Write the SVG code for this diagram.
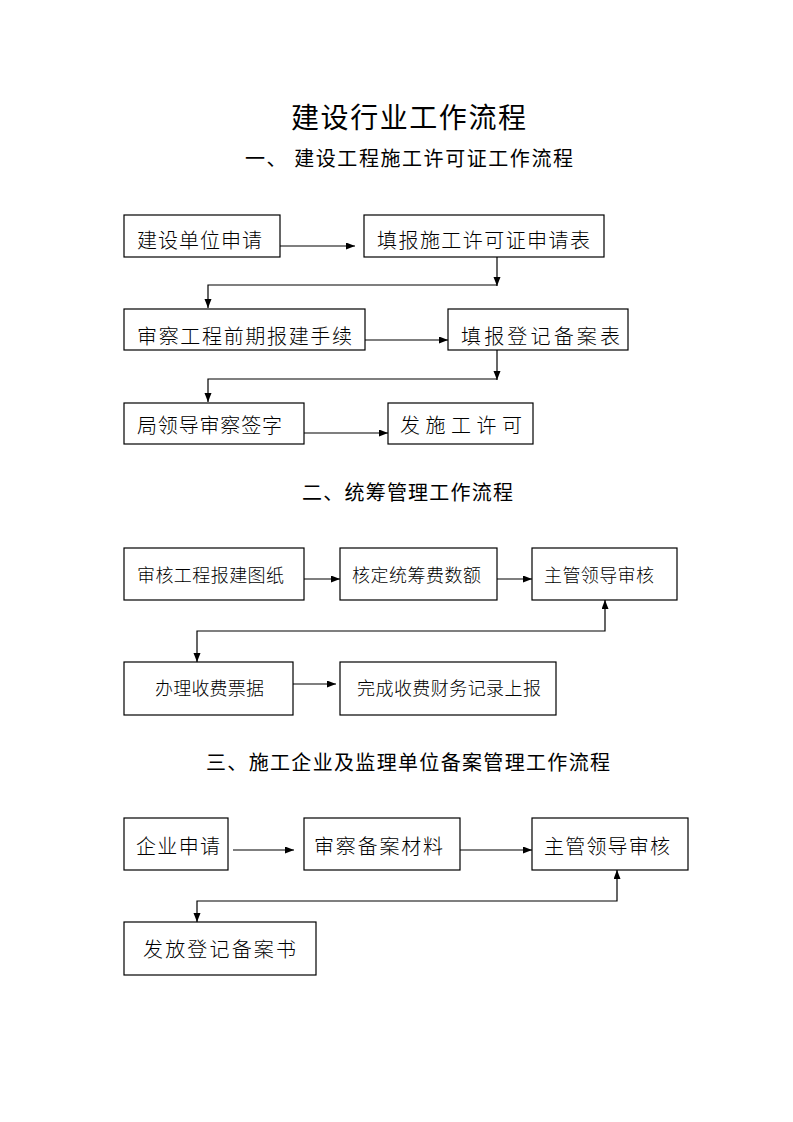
<svg xmlns="http://www.w3.org/2000/svg" width="793" height="1122" viewBox="0 0 793 1122">
<style>
text{font-family:"Noto Sans CJK SC","Noto Sans",sans-serif;fill:#000}
.h{font-size:20px}
.t{font-size:28px}
.b20{font-size:20px;font-weight:300}
.b18{font-size:18px;font-weight:300}
rect{fill:#fff;stroke:#000;stroke-width:1.2}
.c{fill:none;stroke:#000;stroke-width:1.2}
</style>
<defs>
<marker id="ah" markerUnits="userSpaceOnUse" markerWidth="10" markerHeight="8" refX="9" refY="3.5" orient="auto-start-reverse">
<path d="M0,0 L9,3.5 L0,7 z" fill="#000"/>
</marker>
</defs>
<rect x="0" y="0" width="793" height="1122" style="stroke:none"/>
<g id="headers">
<text class="t" x="291" y="127.5" textLength="235" lengthAdjust="spacing">建设行业工作流程</text>
<text class="h" x="245" y="165.5" textLength="328" lengthAdjust="spacing">一、 建设工程施工许可证工作流程</text>
<text class="h" x="302" y="499.5" textLength="211" lengthAdjust="spacing">二、统筹管理工作流程</text>
<text class="h" x="206" y="769.5" textLength="404" lengthAdjust="spacing">三、施工企业及监理单位备案管理工作流程</text>
</g>
<g id="connectors">
<line class="c" x1="280" y1="246" x2="355" y2="246" marker-end="url(#ah)"/>
<path class="c" d="M497,257 V286" marker-end="url(#ah)"/>
<path class="c" d="M497,285 H208 V308" marker-end="url(#ah)"/>
<line class="c" x1="365" y1="340" x2="448" y2="340" marker-end="url(#ah)"/>
<path class="c" d="M497,350 V380" marker-end="url(#ah)"/>
<path class="c" d="M497,379 H208 V402" marker-end="url(#ah)"/>
<line class="c" x1="304" y1="433" x2="388" y2="433" marker-end="url(#ah)"/>
<line class="c" x1="304" y1="579" x2="340" y2="579" marker-end="url(#ah)"/>
<line class="c" x1="497" y1="579" x2="532" y2="579" marker-end="url(#ah)"/>
<path class="c" d="M197,662 V631 H605 V600" marker-start="url(#ah)" marker-end="url(#ah)"/>
<line class="c" x1="293" y1="684" x2="336" y2="684" marker-end="url(#ah)"/>
<line class="c" x1="233" y1="850" x2="294" y2="850" marker-end="url(#ah)"/>
<line class="c" x1="460" y1="850" x2="532" y2="850" marker-end="url(#ah)"/>
<path class="c" d="M197,922 V901 H617 V870" marker-start="url(#ah)" marker-end="url(#ah)"/>
</g>
<g id="n1"><rect x="124" y="215" width="156" height="42"/><text class="b20" x="137" y="248" textLength="125" lengthAdjust="spacing">建设单位申请</text></g>
<g id="n2"><rect x="364" y="215" width="240" height="42"/><text class="b20" x="377" y="248" textLength="213" lengthAdjust="spacing">填报施工许可证申请表</text></g>
<g id="n3"><rect x="124" y="309" width="241" height="41"/><text class="b20" x="137" y="344" textLength="215" lengthAdjust="spacing">审察工程前期报建手续</text></g>
<g id="n4"><rect x="448" y="309" width="180" height="41"/><text class="b20" x="461" y="344" textLength="159" lengthAdjust="spacing">填报登记备案表</text></g>
<g id="n5"><rect x="124" y="403" width="180" height="41"/><text class="b20" x="137" y="433" textLength="145" lengthAdjust="spacing">局领导审察签字</text></g>
<g id="n6"><rect x="388" y="403" width="145" height="41"/><text class="b20" x="400" y="433" textLength="122" lengthAdjust="spacing">发 施 工 许 可</text></g>
<g id="n7"><rect x="124" y="548" width="180" height="52"/><text class="b18" x="137" y="582" textLength="147" lengthAdjust="spacing">审核工程报建图纸</text></g>
<g id="n8"><rect x="340" y="548" width="157" height="52"/><text class="b18" x="352" y="582" textLength="129" lengthAdjust="spacing">核定统筹费数额</text></g>
<g id="n9"><rect x="532" y="548" width="145" height="52"/><text class="b18" x="544" y="582" textLength="110" lengthAdjust="spacing">主管领导审核</text></g>
<g id="n10"><rect x="124" y="662" width="169" height="53"/><text class="b18" x="155" y="695" textLength="109" lengthAdjust="spacing">办理收费票据</text></g>
<g id="n11"><rect x="340" y="662" width="216" height="53"/><text class="b18" x="357" y="695" textLength="184" lengthAdjust="spacing">完成收费财务记录上报</text></g>
<g id="n12"><rect x="124" y="818" width="104" height="52"/><text class="b20" x="136" y="854" textLength="84" lengthAdjust="spacing">企业申请</text></g>
<g id="n13"><rect x="304" y="818" width="156" height="52"/><text class="b20" x="314" y="854" textLength="129" lengthAdjust="spacing">审察备案材料</text></g>
<g id="n14"><rect x="532" y="818" width="156" height="52"/><text class="b20" x="544" y="854" textLength="126" lengthAdjust="spacing">主管领导审核</text></g>
<g id="n15"><rect x="124" y="922" width="192" height="53"/><text class="b20" x="143" y="957" textLength="153" lengthAdjust="spacing">发放登记备案书</text></g>
</svg>
